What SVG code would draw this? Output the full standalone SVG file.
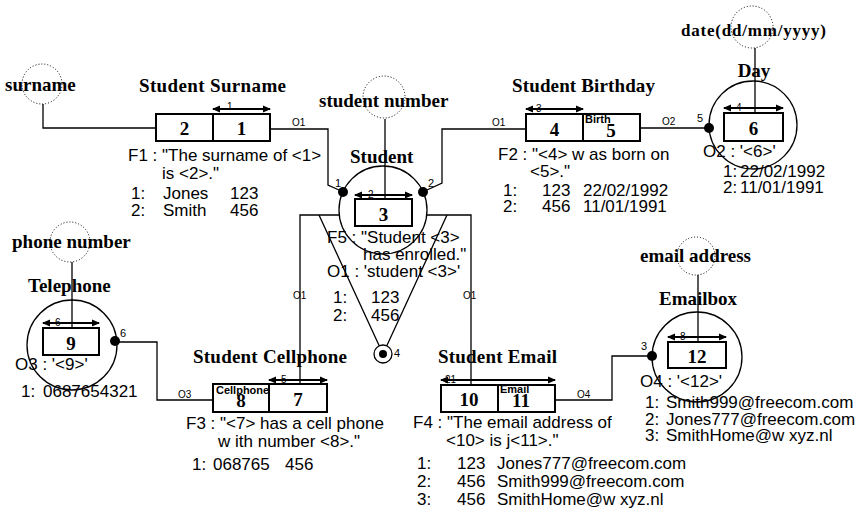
<svg xmlns="http://www.w3.org/2000/svg" width="866" height="512" viewBox="0 0 866 512">
<defs>
<marker id="ah" viewBox="0 0 8 8" refX="7" refY="4" markerWidth="8" markerHeight="8" markerUnits="userSpaceOnUse" orient="auto-start-reverse">
<path d="M0,0.5 L8,4 L0,7.5 z" fill="#000"/>
</marker>
<style>
.t{font-family:"Liberation Sans",Arial,sans-serif;font-size:17px;fill:#000}
.ti{font-family:"Liberation Serif","Times New Roman",serif;font-weight:bold;font-size:19px;fill:#000}
.n{font-family:"Liberation Serif","Times New Roman",serif;font-weight:bold;font-size:19px;text-anchor:middle;fill:#000}
.s{font-family:"Liberation Sans",Arial,sans-serif;font-size:10px;fill:#000}
.sl{font-family:"Liberation Sans",Arial,sans-serif;font-size:11px;fill:#000}
.sb{font-family:"Liberation Sans",Arial,sans-serif;font-size:11px;font-weight:bold;fill:#000}
.box{fill:#fff;stroke:#000;stroke-width:2}
.ring{fill:#fff;stroke:#000;stroke-width:1.3}
.dc{fill:none;stroke:#000;stroke-width:1;stroke-dasharray:1 2}
.ln{fill:none;stroke:#000;stroke-width:1.3}
.arr{stroke:#000;stroke-width:2;marker-start:url(#ah);marker-end:url(#ah)}
.dot{fill:#000}
</style>
</defs>
<rect width="866" height="512" fill="#fff"/>

<g id="surname">
<circle class="dc" cx="42" cy="84" r="20"/>
<text class="ti" x="5" y="91">surname</text>
</g>

<g id="student-surname">
<path class="ln" d="M43 104 V128 H156"/>
<text class="ti" x="139" y="92" textLength="147">Student Surname</text>
<rect class="box" x="156" y="114" width="114" height="27"/>
<line class="ln" x1="213" y1="114" x2="213" y2="141" style="stroke-width:2"/>
<text class="n" x="184.5" y="135">2</text>
<text class="n" x="241.5" y="135">1</text>
<line class="arr" x1="213" y1="109" x2="270" y2="109"/>
<text class="s" x="227" y="110">1</text>
<text class="t" x="128" y="161">F1 : "The surname of &lt;1&gt;</text>
<text class="t" x="162" y="179">is &lt;2&gt;."</text>
<text class="t" x="131" y="199">1:</text><text class="t" x="163" y="199">Jones</text><text class="t" x="230" y="199">123</text>
<text class="t" x="131" y="216">2:</text><text class="t" x="163" y="216">Smith</text><text class="t" x="230" y="216">456</text>
</g>

<g id="student">
<circle class="ring" cx="383" cy="210" r="44"/>
<circle class="dc" cx="384" cy="97" r="21"/>
<text class="ti" x="319" y="107">student number</text>
<line class="ln" x1="385" y1="119" x2="385" y2="199"/>
<text class="ti" x="350" y="163">Student</text>
<rect class="box" x="355" y="199" width="57" height="27"/>
<text class="n" x="383.5" y="221">3</text>
<line class="arr" x1="355" y1="195" x2="412" y2="195"/>
<text class="s" x="368" y="198">2</text>
<text class="t" x="327" y="243">F5 : "Student &lt;3&gt;</text>
<text class="t" x="363" y="260">has enrolled."</text>
<text class="t" x="327" y="277">O1 : 'student &lt;3&gt;'</text>
<text class="t" x="333" y="303">1:</text><text class="t" x="371" y="303">123</text>
<text class="t" x="333" y="321">2:</text><text class="t" x="371" y="321">456</text>
</g>

<g id="student-birthday">
<text class="ti" x="512" y="92" textLength="143">Student Birthday</text>
<rect class="box" x="526" y="114" width="114" height="27"/>
<line class="ln" x1="583" y1="114" x2="583" y2="141" style="stroke-width:2"/>
<text class="n" x="554.5" y="136">4</text>
<text class="sb" x="585" y="123">Birth</text>
<text class="n" x="611" y="137">5</text>
<line class="arr" x1="526" y1="109" x2="583" y2="109"/>
<text class="s" x="536" y="112">3</text>
<text class="t" x="498" y="160">F2 : "&lt;4&gt; w as born on</text>
<text class="t" x="530" y="177">&lt;5&gt;."</text>
<text class="t" x="503" y="196">1:</text><text class="t" x="542" y="196">123</text><text class="t" x="583" y="196">22/02/1992</text>
<text class="t" x="503" y="212">2:</text><text class="t" x="542" y="212">456</text><text class="t" x="583" y="212">11/01/1991</text>
</g>

<g id="day">
<circle class="ring" cx="753" cy="125" r="44"/>
<circle class="dc" cx="752" cy="27" r="21"/>
<text class="ti" x="681" y="36" style="font-size:17px" textLength="145">date(dd/mm/yyyy)</text>
<line class="ln" x1="755" y1="48" x2="755" y2="113"/>
<text class="n" x="754" y="77">Day</text>
<rect class="box" x="724" y="113" width="59" height="28"/>
<text class="n" x="753.5" y="135">6</text>
<line class="arr" x1="724" y1="108" x2="783" y2="108"/>
<text class="s" x="736" y="111">4</text>
<text class="t" x="703" y="157">O2 : '&lt;6&gt;'</text>
<text class="t" x="723" y="177">1:</text><text class="t" x="740" y="177">22/02/1992</text>
<text class="t" x="723" y="193">2:</text><text class="t" x="740" y="193">11/01/1991</text>
</g>

<g id="telephone">
<circle class="dc" cx="70" cy="242" r="20"/>
<text class="ti" x="12" y="248">phone number</text>
<text class="ti" x="28" y="292">Telephone</text>
<circle class="ring" cx="72" cy="345" r="45"/>
<line class="ln" x1="72" y1="262" x2="72" y2="328"/>
<rect class="box" x="43" y="328" width="56" height="27"/>
<text class="n" x="71" y="350">9</text>
<line class="arr" x1="43" y1="323" x2="99" y2="323"/>
<text class="s" x="55" y="326">6</text>
<text class="t" x="15" y="370">O3 : '&lt;9&gt;'</text>
<text class="t" x="21" y="397">1:</text><text class="t" x="43" y="397">0687654321</text>
</g>

<g id="student-cellphone">
<text class="ti" x="193" y="363" textLength="154">Student Cellphone</text>
<rect class="box" x="213" y="384" width="114" height="28"/>
<line class="ln" x1="269" y1="384" x2="269" y2="412" style="stroke-width:2"/>
<text class="n" x="241" y="407">8</text>
<text class="sb" x="216" y="394">Cellphone</text>
<text class="n" x="298" y="406">7</text>
<line class="arr" x1="269" y1="380" x2="327" y2="380"/>
<text class="s" x="281" y="383">5</text>
<text class="t" x="186" y="429">F3 : "&lt;7&gt; has a cell phone</text>
<text class="t" x="218" y="447">w ith number &lt;8&gt;."</text>
<text class="t" x="192" y="470">1:</text><text class="t" x="213" y="470">068765</text><text class="t" x="285" y="470">456</text>
</g>

<g id="student-email">
<text class="ti" x="438" y="363" textLength="119">Student Email</text>
<rect class="box" x="441" y="385" width="114" height="27"/>
<line class="ln" x1="498" y1="385" x2="498" y2="412" style="stroke-width:2"/>
<text class="n" x="469" y="406">10</text>
<text class="sb" x="500" y="393">Email</text>
<text class="n" x="521" y="407">11</text>
<line class="arr" x1="441" y1="380" x2="555" y2="380"/>
<text class="s" x="445" y="383">21</text>
<text class="t" x="413" y="428">F4 : "The email address of</text>
<text class="t" x="446" y="446">&lt;10&gt; is j&lt;11&gt;."</text>
<text class="t" x="417" y="469">1:</text><text class="t" x="457" y="469">123</text><text class="t" x="497" y="469">Jones777@freecom.com</text>
<text class="t" x="417" y="487">2:</text><text class="t" x="457" y="487">456</text><text class="t" x="497" y="487">Smith999@freecom.com</text>
<text class="t" x="417" y="505">3:</text><text class="t" x="457" y="505">456</text><text class="t" x="497" y="505">SmithHome@w xyz.nl</text>
</g>

<g id="emailbox">
<circle class="dc" cx="696" cy="256" r="19"/>
<text class="ti" x="640" y="262">email address</text>
<text class="ti" x="659" y="305">Emailbox</text>
<circle class="ring" cx="697" cy="357" r="45"/>
<line class="ln" x1="698" y1="275" x2="698" y2="342"/>
<rect class="box" x="668" y="342" width="58" height="26"/>
<text class="n" x="697" y="363">12</text>
<line class="arr" x1="668" y1="337" x2="726" y2="337"/>
<text class="s" x="680" y="340">8</text>
<text class="t" x="640" y="387">O4 : '&lt;12&gt;'</text>
<text class="t" x="645" y="408">1:</text><text class="t" x="666" y="408">Smith999@freecom.com</text>
<text class="t" x="645" y="425">2:</text><text class="t" x="666" y="425">Jones777@freecom.com</text>
<text class="t" x="645" y="441">3:</text><text class="t" x="666" y="441">SmithHome@w xyz.nl</text>
</g>

<g id="constraint">
<path class="ln" d="M319 215 L379.2 345.8 M447 215 L386.8 345.8"/>
<circle class="ring" cx="383" cy="354" r="9"/>
<circle class="dot" cx="383" cy="354" r="4"/>
<text class="sl" x="394" y="357">4</text>
</g>

<g id="connectors">
<path class="ln" d="M270 129 H328 V185 L339 190"/>
<circle class="dot" cx="343" cy="192" r="5"/>
<text class="sl" x="335" y="187">1</text>
<text class="s" x="292" y="126">O1</text>
<path class="ln" d="M427 190 L442 183 V129 H526"/>
<circle class="dot" cx="423" cy="192" r="5"/>
<text class="sl" x="428" y="187">2</text>
<text class="s" x="492" y="126">O1</text>
<path class="ln" d="M640 128 H709"/>
<circle class="dot" cx="709" cy="128" r="5"/>
<text class="sl" x="697" y="122">5</text>
<text class="s" x="662" y="125">O2</text>
<path class="ln" d="M115 342 H157 V400 H213"/>
<circle class="dot" cx="115" cy="341" r="5"/>
<text class="sl" x="120" y="337">6</text>
<text class="s" x="178" y="398">O3</text>
<path class="ln" d="M555 400 H612 V356 H652"/>
<circle class="dot" cx="652" cy="356" r="5"/>
<text class="sl" x="641" y="350">3</text>
<text class="s" x="577" y="398">O4</text>
<path class="ln" d="M340 215 H300 V384"/>
<text class="s" x="293" y="299">O1</text>
<path class="ln" d="M426 215 H471 V385"/>
<text class="s" x="463" y="299">O1</text>
</g>
</svg>
